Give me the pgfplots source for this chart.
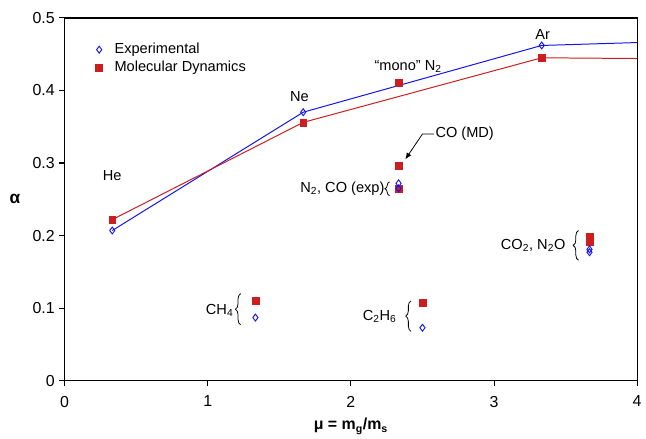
\documentclass[border=0pt]{standalone}
\usepackage{pgfplots}
\pgfplotsset{compat=1.18}
\usepackage{fontspec}
\setmainfont{Liberation Sans}
\usetikzlibrary{decorations.pathreplacing,arrows.meta}
\definecolor{mdred}{RGB}{204,30,30}
\definecolor{expblue}{RGB}{20,20,240}
\begin{document}
\begin{tikzpicture}
\begin{axis}[
  name=ax,
  scale only axis,
  width=432pt, height=273.75pt,
  xmin=0, xmax=4, ymin=0, ymax=0.5,
  xtick={0,1,2,3,4}, ytick={0,0.1,0.2,0.3,0.4,0.5},
  yticklabels={0,0.1,0.2,0.3,0.4,0.5},
  tick align=outside, tick pos=left,
  major tick length=4pt,
  axis line style={line width=1pt},
  every tick/.style={black, line width=0.8pt},
  /pgf/number format/assume math mode=true,
  tick label style={font=\fontsize{12}{14}\selectfont},
  xticklabel style={yshift=-4pt},
  xlabel={\textbf{μ = m\textsubscript{g}/m\textsubscript{s}}},
  ylabel={\textbf{α}},
  every axis x label/.style={at={(rel axis cs:0.5,0)}, anchor=center, yshift=-34.5pt, font=\fontsize{12}{14}\selectfont},
  every axis y label/.style={at={(rel axis cs:0,0.5)}, anchor=center, xshift=-37.5pt, font=\fontsize{13}{15}\selectfont},
  clip=false,
  legend style={at={(rel axis cs:0.047,0.945)}, anchor=north west, draw=none, fill=none, font=\fontsize{11}{13}\selectfont, row sep=0pt, column sep=7pt},
  legend cell align=left,
]
\addlegendimage{only marks, mark=diamond, mark size=2.6pt, expblue, mark options={line width=0.7pt}}
\addlegendentry{Experimental}
\addlegendimage{only marks, mark=square*, mark size=2.6pt, mdred}
\addlegendentry{Molecular Dynamics}
% theory lines
\addplot[forget plot, expblue, line width=0.75pt] coordinates {(0.333,0.207) (1.667,0.370) (3.333,0.462) (4,0.466)};
\addplot[forget plot, mdred, line width=0.75pt] coordinates {(0.333,0.222) (1.667,0.356) (3.333,0.445) (4,0.444)};
% MD
\addplot[forget plot, only marks, mark=square*, mark size=2.6pt, mdred] coordinates {
(0.333,0.222) (1.667,0.356) (3.333,0.445) (2.333,0.410) (2.333,0.296) (2.333,0.265)
(1.333,0.110) (2.5,0.107) (3.667,0.198) (3.667,0.192)};
% Experimental
\addplot[forget plot, only marks, mark=diamond, mark size=2.6pt, expblue, mark options={line width=0.7pt}] coordinates {
(0.333,0.207) (1.667,0.370) (3.333,0.462) (2.333,0.272) (2.333,0.265)
(1.333,0.087) (2.5,0.073) (3.667,0.181) (3.667,0.177)};
% labels
\begin{scope}[font=\fontsize{11}{13}\selectfont]
\node at (axis cs:0.333,0.283) {He};
\node at (axis cs:1.64,0.392) {Ne};
\node at (axis cs:2.40,0.433) {“mono” N\textsubscript{2}};
\node at (axis cs:3.34,0.477) {Ar};
\node[anchor=west, inner sep=1pt] at (axis cs:2.58,0.340) {CO (MD)};
\draw[-{Latex[length=5pt,width=4pt]}, line width=0.6pt] (axis cs:2.58,0.340) -- (axis cs:2.50,0.340) -- (axis cs:2.38,0.305);
\node[anchor=east, inner sep=1pt] at (axis cs:2.245,0.2645) {N\textsubscript{2}, CO (exp)};
\draw[decorate, decoration={brace, amplitude=3.5pt}, line width=0.6pt] (axis cs:2.27,0.255) -- (axis cs:2.27,0.274);
\node[anchor=east, inner sep=1pt] at (axis cs:1.19,0.097) {CH\textsubscript{4}};
\draw[decorate, decoration={brace, amplitude=4pt}, line width=0.6pt] (axis cs:1.23,0.077) -- (axis cs:1.23,0.120);
\node[anchor=east, inner sep=1pt] at (axis cs:2.33,0.089) {C\textsubscript{2}H\textsubscript{6}};
\draw[decorate, decoration={brace, amplitude=4pt}, line width=0.6pt] (axis cs:2.42,0.068) -- (axis cs:2.42,0.110);
\node[anchor=east, inner sep=1pt] at (axis cs:3.51,0.186) {CO\textsubscript{2}, N\textsubscript{2}O};
\draw[decorate, decoration={brace, amplitude=4pt}, line width=0.6pt] (axis cs:3.59,0.166) -- (axis cs:3.59,0.207);
\end{scope}
\end{axis}
\path (ax.south west) ++(-48.75pt,-39.75pt);
\path (ax.north east) ++(3.75pt,13.5pt);
\end{tikzpicture}
\end{document}
